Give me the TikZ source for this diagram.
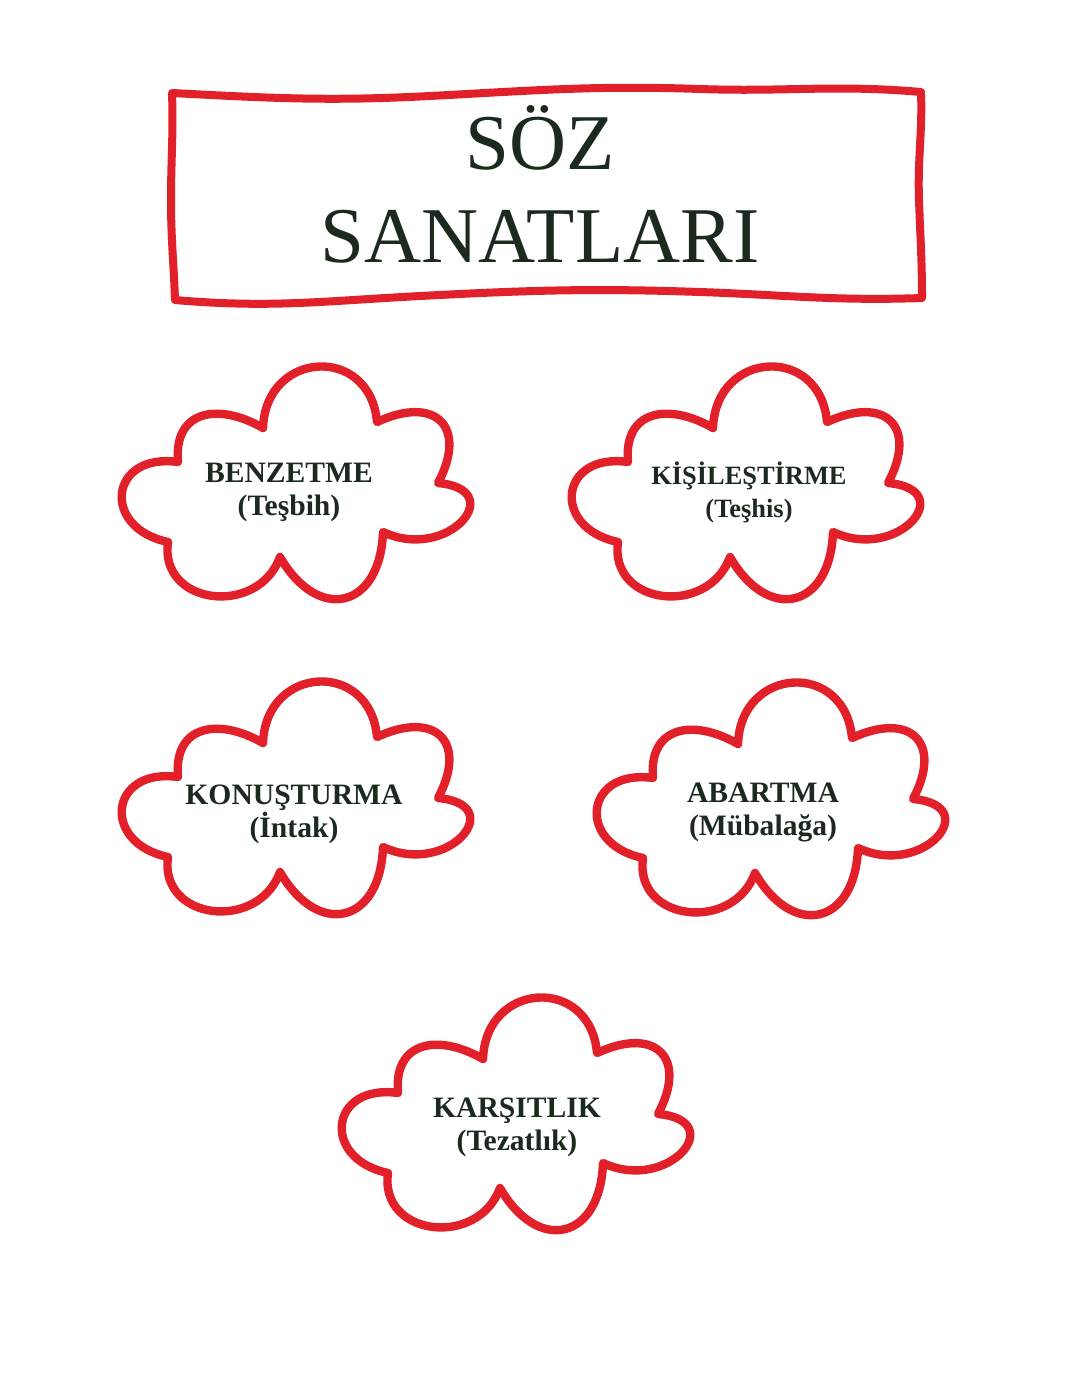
\documentclass[tikz,border=0pt]{standalone}
\usepackage{fontspec}
\setmainfont{Liberation Serif}
\usetikzlibrary{positioning}
\definecolor{cloudred}{HTML}{E2202A}
\definecolor{inkgreen}{HTML}{1C2A1D}

\tikzset{
  cloudline/.style={draw=cloudred,line width=4.2pt,line join=round,fill=white},
  boxline/.style={draw=cloudred,line width=4pt,line join=round},
  titletext/.style={text=inkgreen,align=center,
    font=\fontsize{39.5}{46.5}\selectfont},
  labeltext/.style={text=inkgreen,align=center,
    font=\bfseries\fontsize{14.8}{16.5}\selectfont},
  pics/cloud/.style={code={
    \draw[cloudline] (-117,21)
      to [out=172,in=168,looseness=2.2] (-127,-59)
      to [out=262,in=250,looseness=1.45] (-15,-74)
      to [out=300,in=268,looseness=1.85] (88,-49)
      to [out=335,in=355,looseness=2.5] (143,0)
      to [out=62,in=25,looseness=1.9] (82,61)
      to [out=95,in=88,looseness=1.75] (-32,55)
      to [out=150,in=95,looseness=1.45] (-117,21)
      -- cycle;
  }}
}

\begin{document}
\begin{tikzpicture}[x=0.5pt,y=0.5pt]
    \fill[white] (0,0) rectangle (1080,-1397);
    \useasboundingbox (0,0) rectangle (1080,-1397);

    % title box
    \draw[boxline] (172,-93)
      to [out=-3,in=183] (430,-96)
      to [out=3,in=178] (700,-89)
      to [out=-2,in=175] (921,-92)
      to [out=-88,in=92] (919,-200)
      to [out=-88,in=90] (922,-298)
      to [out=182,in=-2] (700,-292)
      to [out=178,in=3] (420,-296)
      to [out=183,in=-5] (175,-300)
      to [out=92,in=-90] (171,-200)
      to [out=90,in=-88] (172,-93)
      -- cycle;
    \node[titletext] (title) at (540,-184) {SÖZ\\SANATLARI};

    % clouds
    \pic at (295,-483) {cloud};
    \pic at (745,-483) {cloud};
    \pic at (295,-798) {cloud};
    \pic at (770,-799) {cloud};
    \pic at (515,-1114) {cloud};

    \node[labeltext] (benzetme) at (289,-492) {BENZETME\\(Teşbih)};
    \node[labeltext,font=\bfseries\fontsize{13.2}{16.5}\selectfont]
      (kisilestirme) at (749,-492) {KİŞİLEŞTİRME\\(Teşhis)};
    \node[labeltext] (konusturma) at (294,-814) {KONUŞTURMA\\(İntak)};
    \node[labeltext] (abartma) at (763,-812) {ABARTMA\\(Mübalağa)};
    \node[labeltext] (karsitlik) at (517,-1127) {KARŞITLIK\\(Tezatlık)};
\end{tikzpicture}
\end{document}
